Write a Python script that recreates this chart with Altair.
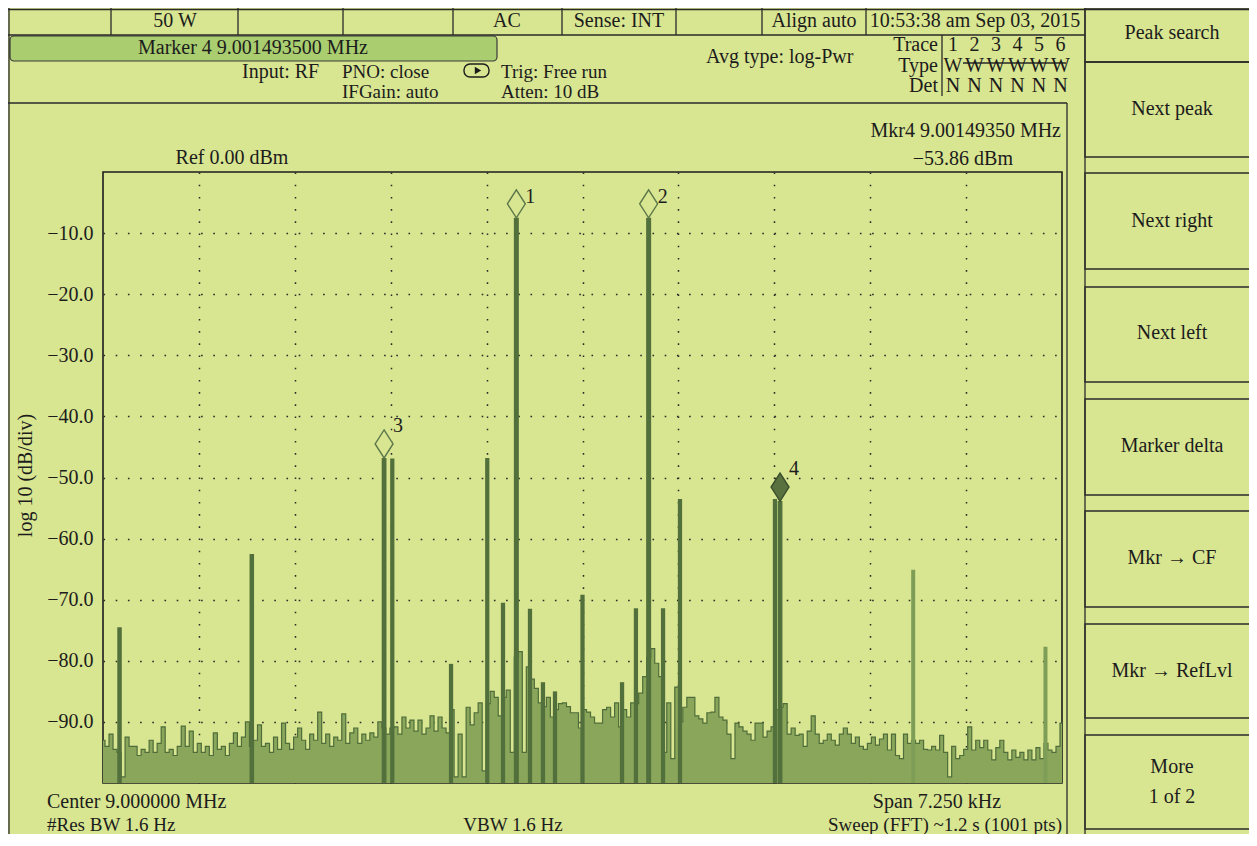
import altair as alt
import pandas as pd

FONT = "Liberation Serif"
BG = "#d8e591"
INK = "#1c1c1c"
BOX_GREEN = "#a9cd6f"
TRACE_FILL = "#89a65a"
TRACE_LINE = "#4f6d3a"
SPIKE_DARK = "#52703c"
SPIKE_LIGHT = "#7e9e57"

SPAN_HZ = 7250.0          # span 7.250 kHz around 9.000000 MHz
HALF = SPAN_HZ / 2

noise_db = [
    -93, -94, -92, -94.5, -95, -99, -92.5, -94, -94, -95.5, -94.5, -95, -93, -95, -93.5, -90.8, -95, -94.5, -95.5, -94, -90.7, -94, -91.5, -95,
    -93.5, -95, -94, -95.5, -91.8, -94.5, -94, -95.5, -93.5, -91.8, -94, -92.5, -90, -94, -93, -90.5, -94, -93.5, -95, -92.5, -94.5, -90.2, -93.5, -94.5,
    -92.5, -91, -93, -94.5, -92, -93, -88.4, -93.5, -92, -94, -92.5, -93, -88.7, -93.5, -91.8, -91, -93.5, -92, -93, -91.8, -92.5, -90, -91, -92,
    -91, -90.8, -92, -89.2, -91, -89.7, -91.5, -89.7, -92, -91, -89, -91.5, -89.2, -91, -91.8, -88, -99, -92, -99, -87.6, -90.5, -88.5, -86.9, -98,
    -87, -85, -86, -89, -86, -84.8, -95, -79.4, -78.5, -95, -81, -83, -84.5, -86.9, -87.5, -86, -89.2, -88, -87, -86.9, -87.5, -88.5, -88.5, -91,
    -88, -88.4, -89.2, -90.2, -90.2, -88, -87.6, -89.2, -86.9, -90.8, -88, -89.2, -86.9, -87, -85.3, -82.6, -79.4, -78, -80.4, -82.6, -95, -86.9, -96, -84.3,
    -90, -87.6, -86, -86, -89, -89.5, -90.2, -88.5, -88.4, -86, -89.2, -89.7, -92, -96, -90.2, -90.8, -91.5, -92, -93, -90.2, -90.2, -92.5, -91.5, -90.8,
    -88, -87.6, -87, -92, -91, -92.2, -92, -94, -91.5, -89, -92, -93.5, -93, -92, -93, -93.8, -92, -91, -92, -93.5, -92.5, -94, -94.5, -93.5,
    -92.5, -93.8, -92.8, -92, -94.6, -92, -95.5, -96, -92, -93.5, -93, -93.5, -93, -94.5, -94.6, -94, -94.6, -92.2, -95, -99, -94, -96, -95.5, -94.5,
    -90.8, -94.6, -93, -94.2, -93, -94.6, -96.2, -94.2, -93, -95, -96.2, -94.6, -95.8, -95, -96.2, -94.6, -96.2, -94.2, -96, -93.5, -94.6, -95, -94, -90.2,
]

spike_freq = [-3500, -2500, -1500, -1438, -994, -720, -601, -500, -397, -299, -208,
              0, 299, 404, 500, 609, 737, 1455, 1493.5, 2500, 3500]
spike_db = [-74.5, -62.5, -46.8, -46.9, -80.5, -46.8, -70.5, -7.5, -71.5, -83.5, -85,
            -69.2, -83.5, -71.4, -7.5, -71.4, -53.5, -53.5, -53.86, -65.1, -77.7]
spike_kind = ["strong", "strong", "imd", "thin", "thin", "thin", "thin", "tone", "thin", "thin", "thin",
              "thin", "thin", "thin", "tone", "thin", "thin", "thin", "imd", "faint", "faint"]

marker_id = ["1", "2", "3", "4"]
marker_freq = [-500, 500, -1500, 1493.5]
marker_db = [-7.5, -7.5, -46.8, -53.86]
marker_state = ["open", "open", "open", "active"]

y_ticks = [-10, -20, -30, -40, -50, -60, -70, -80, -90]
x_divs = [-HALF + k * SPAN_HZ / 10 for k in range(1, 10)]

# ---------------- tables ----------------
n = len(noise_db)
trace = pd.DataFrame({
    "freq": [-HALF + i * SPAN_HZ / (n - 1) for i in range(n)],
    "db": noise_db,
})
spikes = pd.DataFrame({"freq": spike_freq, "db": spike_db, "kind": spike_kind})
markers = pd.DataFrame({"freq": marker_freq, "db": marker_db, "id": marker_id, "state": marker_state})

W, H = 959, 611
OX, OY = 103, 172  # page position of the plot area


def seg_table(rows):
    return pd.DataFrame([{"x1": a - OX, "y1": b - OY, "x2": c - OX, "y2": d - OY} for a, b, c, d in rows])


def text_table(rows):
    return pd.DataFrame([{"t": t, "px": x - OX, "py": y - OY} for t, x, y in rows])


frame_lines = [
    (8, 9.5, 1257, 9.5),
    (9, 8, 9, 846),
    (8, 35, 1085, 35),
    (111, 8, 111, 35), (238, 8, 238, 35), (343, 8, 343, 35), (453, 8, 453, 35),
    (562, 8, 562, 35), (676, 8, 676, 35), (762, 8, 762, 35), (866, 8, 866, 35),
    (1085, 8, 1085, 846),
    (942, 35, 942, 96),
    (8, 103, 1067, 103),
    (1067, 103, 1067, 846),
    (963, 63, 1066, 63),
]
button_boxes = [(1085, 8, 1262, 62), (1085, 62, 1262, 157), (1085, 173, 1262, 269), (1085, 287, 1262, 382),
                (1085, 399, 1262, 495), (1085, 511, 1262, 607), (1085, 624, 1262, 718), (1085, 735, 1262, 829),
                (1085, 846, 1262, 900)]

left_texts = [("Input: RF", 242, 72), ("Avg type: log-Pwr", 706, 57),
              ("Center 9.000000 MHz", 47, 802)]
left_small = [("PNO: close", 342, 72), ("IFGain: auto", 342, 92),
              ("Trig: Free run", 501, 72), ("Atten: 10 dB", 501, 92), ("#Res BW 1.6 Hz", 47, 825)]
center_texts = [("50 W", 175, 21), ("AC", 507, 21), ("Sense: INT", 619, 21), ("Align auto", 814, 21),
                ("10:53:38 am Sep 03, 2015", 975, 21), ("Marker 4 9.001493500 MHz", 253, 48),
                ("Ref 0.00 dBm", 232, 158), ("Span 7.250 kHz", 937, 802),
                ("Peak search", 1172, 33), ("Next peak", 1172, 109), ("Next right", 1172, 221),
                ("Next left", 1172, 333), ("Marker delta", 1172, 446), ("Mkr \u2192 CF", 1172, 558),
                ("Mkr \u2192 RefLvl", 1172, 671), ("More", 1172, 767), ("1 of 2", 1172, 797)]
center_small = [("VBW 1.6 Hz", 513, 825)]
for i in range(6):
    cx = 953 + i * 21.5
    center_texts += [(str(i + 1), cx, 45), ("W", cx, 66), ("N", cx, 86)]
right_texts = [("Trace", 938, 45), ("Type", 938, 66), ("Det", 938, 86),
               ("Mkr4 9.00149350 MHz", 1061, 131), ("\u221253.86 dBm", 1013, 159)]
right_small = [("Sweep (FFT) ~1.2 s (1001 pts)", 1062, 825)]

# ---------------- spectrum layers ----------------
xenc = alt.X("freq:Q", scale=alt.Scale(domain=[-HALF, HALF], nice=False, zero=False),
             axis=alt.Axis(values=x_divs, labels=False, ticks=False, domain=False, title=None,
                           grid=True, gridColor="#2a2a2a", gridDash=[1.6, 10.6], gridWidth=1.5))
yenc = alt.Y("db:Q", scale=alt.Scale(domain=[-100, 0], nice=False, zero=False),
             axis=alt.Axis(values=y_ticks, format=".1f", ticks=False, domain=False,
                           labelFont=FONT, labelFontSize=20, labelColor=INK, labelPadding=10,
                           grid=True, gridColor="#2a2a2a", gridDash=[1.6, 10.6], gridWidth=1.5,
                           title="log 10 (dB/div)", titleFont=FONT, titleFontSize=20,
                           titleFontWeight="normal", titleColor=INK, titleAngle=270,
                           titleX=-78, titleY=303, titleAlign="center", titleBaseline="middle"))

area = alt.Chart(trace).mark_area(interpolate="step", color=TRACE_FILL, opacity=1).encode(
    x=xenc, y=yenc, y2=alt.datum(-100))
line = alt.Chart(trace).mark_line(interpolate="step", color=TRACE_LINE, strokeWidth=1.2).encode(
    x="freq:Q", y="db:Q")
kinds = ["tone", "imd", "strong", "thin", "faint"]
spike_rules = alt.Chart(spikes).mark_rule().encode(
    x="freq:Q", y="db:Q", y2=alt.datum(-100),
    strokeWidth=alt.StrokeWidth("kind:O", scale=alt.Scale(domain=kinds, range=[5, 4, 3, 2, 1.5]), legend=None),
    color=alt.Color("kind:O", scale=alt.Scale(domain=kinds,
                    range=[SPIKE_DARK, SPIKE_DARK, SPIKE_DARK, SPIKE_DARK, SPIKE_LIGHT]), legend=None),
)
DIAMOND = "M0,-1L0.64,0L0,1L-0.64,0Z"
diamonds = alt.Chart(markers).mark_point(shape=DIAMOND, size=784, filled=True, opacity=1,
                                         yOffset=-14, strokeWidth=1.4).encode(
    x="freq:Q", y="db:Q",
    fill=alt.Fill("state:N", scale=alt.Scale(domain=["open", "active"], range=[BG, "#58713f"]), legend=None),
    stroke=alt.Stroke("state:N", scale=alt.Scale(domain=["open", "active"], range=["#5b7648", "#3a4d2b"]), legend=None),
)
mlabels = alt.Chart(markers).transform_calculate(
    label_db="min(datum.db + 5.3, -4.1)"
).mark_text(dx=14, font=FONT, fontSize=20, color=INK, baseline="middle").encode(
    x="freq:Q", y="label_db:Q", text="id:N")

# ---------------- instrument screen chrome ----------------
def px_x(f):
    return alt.X(f, scale=None)


def px_y(f):
    return alt.Y(f, scale=None)


marker_box = alt.Chart(seg_table([(10, 36, 497, 61)])).mark_rect(
    fill=BOX_GREEN, stroke="#3a3a3a", strokeWidth=1.2, cornerRadius=4).encode(
    x=px_x("x1:Q"), x2="x2:Q", y=px_y("y1:Q"), y2="y2:Q")
buttons = alt.Chart(seg_table(button_boxes)).mark_rect(
    fill="transparent", stroke="#2a2a2a", strokeWidth=1.3).encode(
    x=px_x("x1:Q"), x2="x2:Q", y=px_y("y1:Q"), y2="y2:Q")
bubble = alt.Chart(seg_table([(464, 64, 489, 77)])).mark_rect(
    fill="transparent", stroke=INK, strokeWidth=1.4, cornerRadius=6).encode(
    x=px_x("x1:Q"), x2="x2:Q", y=px_y("y1:Q"), y2="y2:Q")
arrow = alt.Chart(text_table([("", 478, 70.5)])).mark_point(
    shape="triangle-right", filled=True, size=55, color=INK, opacity=1).encode(
    x=px_x("px:Q"), y=px_y("py:Q"))
lines = alt.Chart(seg_table(frame_lines)).mark_rule(color="#2a2a2a", strokeWidth=1.3).encode(
    x=px_x("x1:Q"), x2="x2:Q", y=px_y("y1:Q"), y2="y2:Q")


def text_layer(rows, align, size=20):
    return alt.Chart(text_table(rows)).mark_text(
        align=align, baseline="middle", font=FONT, fontSize=size, color=INK).encode(
        x=px_x("px:Q"), y=px_y("py:Q"), text="t:N")


chart = alt.layer(
    area, line, spike_rules, diamonds, mlabels,
    marker_box, buttons, bubble, arrow, lines,
    text_layer(left_texts, "left"), text_layer(center_texts, "center"), text_layer(right_texts, "right"),
    text_layer(left_small, "left", 19), text_layer(center_small, "center", 19),
    text_layer(right_small, "right", 19),
).properties(
    width=W, height=H,
    padding={"left": 95, "top": 164, "right": 187, "bottom": 51},
    autosize=alt.AutoSizeParams(type="none"),
    background=BG,
).configure_view(stroke=INK, strokeWidth=1.6)

chart.save("out.html", embed_options={"renderer": "svg", "actions": False})
